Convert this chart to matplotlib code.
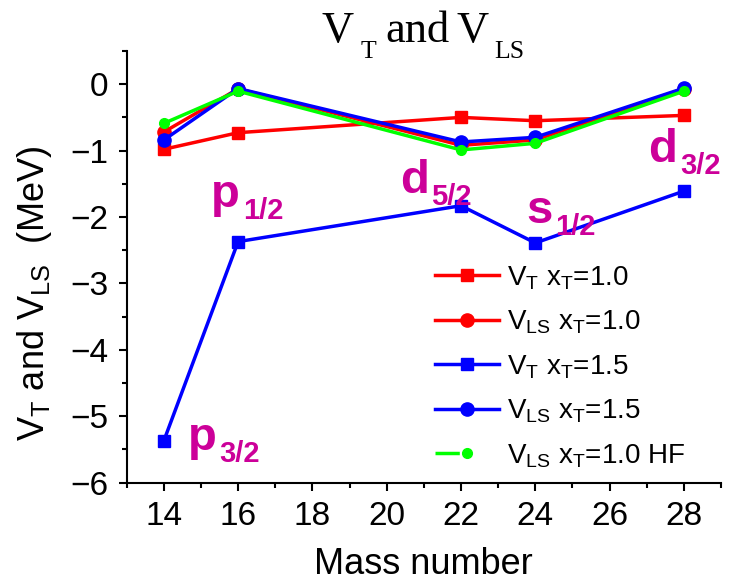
import matplotlib
matplotlib.use("Agg")
import matplotlib.pyplot as plt
from matplotlib.legend_handler import HandlerLine2D
from matplotlib.ticker import MultipleLocator

mass = [14, 16, 22, 24, 28]
vt_x10 = [-0.98, -0.73, -0.50, -0.55, -0.47]
vls_x10 = [-0.72, -0.07, -0.92, -0.84, -0.07]
vt_x15 = [-5.37, -2.37, -1.83, -2.39, -1.61]
vls_x15 = [-0.84, -0.065, -0.87, -0.80, -0.06]
vls_x10_hf = [-0.59, -0.105, -0.99, -0.89, -0.105]

orbital_main = ["p", "p", "d", "s", "d"]
orbital_sub = ["3/2", "1/2", "5/2", "1/2", "3/2"]
orbital_x = [14.64, 15.27, 20.35, 23.75, 27.04]
orbital_y = [-5.51, -1.85, -1.64, -2.09, -1.17]

SANS = "Liberation Sans"
SERIF = "Liberation Serif"

fig = plt.figure(figsize=(7.47, 5.86), dpi=100)
ax = fig.add_axes([0.1696, 0.1763, 0.9652 - 0.1696, 0.913 - 0.1763])

lw = 2.5
ax.plot(mass, vt_x10, color="#FF0000", marker="s", ms=9, lw=lw,
        label="V$_\\mathregular{T}$ x$_\\mathregular{T}$=1.0")
ax.plot(mass, vls_x10, color="#FF0000", marker="o", ms=9.5, lw=lw,
        label="V$_\\mathregular{LS}$ x$_\\mathregular{T}$=1.0")
ax.plot(mass, vt_x15, color="#0000FF", marker="s", ms=9, lw=lw,
        label="V$_\\mathregular{T}$ x$_\\mathregular{T}$=1.5")
ax.plot(mass, vls_x15, color="#0000FF", marker="o", ms=9.5, lw=lw,
        label="V$_\\mathregular{LS}$ x$_\\mathregular{T}$=1.5")
ax.plot(mass, vls_x10_hf, color="#00FF00", marker="o", ms=7, lw=lw,
        label="V$_\\mathregular{LS}$ x$_\\mathregular{T}$=1.0 HF")


def composed(x, y, pieces, ycoords, transform, **kw):
    """pieces: list of (text, fontsize, gap_pt, drop_pt)."""
    txt, size, _, _ = pieces[0]
    first = ax.text(x, y, txt, fontsize=size, ha="left", va="baseline",
                    transform=transform, clip_on=False, **kw)
    prev = first
    for txt, size, gap, drop in pieces[1:]:
        prev = ax.annotate(txt, xy=(1, y), xycoords=(prev, ycoords),
                           xytext=(gap, -drop), textcoords="offset points",
                           fontsize=size, ha="left", va="baseline",
                           annotation_clip=False, **kw)
    return first


for m, s, x, y in zip(orbital_main, orbital_sub, orbital_x, orbital_y):
    composed(x, y, [(m, 34, 0, 0), (s, 21, 2, 8.4)], "data", ax.transData,
             color="#CC0099", fontfamily=SANS, fontweight="bold")

# title  V_T and V_LS
composed(0.430, 1 - 41.7 / 586,
         [("V", 32, 0, 0), ("T", 18.5, 5, 12), ("and", 32, 7, 0),
          ("V", 32, 5, 0), ("LS", 18.5, 3.5, 12)],
         "figure fraction", fig.transFigure, fontfamily=SERIF, color="black")

ax.set_xlim(13, 29)
ax.set_ylim(-6, 0.5)
ax.xaxis.set_major_locator(MultipleLocator(2))
ax.xaxis.set_minor_locator(MultipleLocator(1))
ax.yaxis.set_minor_locator(MultipleLocator(0.5))
ax.spines["top"].set_visible(False)
ax.spines["right"].set_visible(False)
for sp in ("left", "bottom"):
    ax.spines[sp].set_linewidth(1.5)
ax.tick_params(which="major", direction="out", length=6, width=1.5,
               labelsize=24, pad=7)
ax.tick_params(which="minor", direction="out", length=3.5, width=1.5)
for t in ax.get_xticklabels():
    t.set_fontfamily(SANS)
ax.set_yticks([0, -1, -2, -3, -4, -5, -6])
ax.set_yticklabels(["0", "\u22121", "\u22122", "\u22123", "\u22124", "\u22125", "\u22126"],
                   fontfamily=SANS, fontsize=24)

ax.set_xlabel("Mass number", fontsize=26, fontfamily=SANS, labelpad=11)
ax.set_ylabel("V$_\\mathregular{T}$ and V$_\\mathregular{LS}$  (MeV)",
              fontsize=26, fontfamily=SANS)
ax.yaxis.set_label_coords(-0.122, 0.439)


def green_update(legline, orig):
    legline.update_from(orig)
    legline.set_dashes([7, 11.5])


handles, labels = ax.get_legend_handles_labels()
leg = ax.legend(handles, labels, loc="upper left",
                bbox_to_anchor=(435 / 747, 1 - 264 / 586),
                bbox_transform=fig.transFigure,
                frameon=False, prop={"family": SANS, "size": 20},
                handlelength=2.3, handletextpad=0.3, labelspacing=0.6,
                borderpad=0, borderaxespad=0,
                handler_map={handles[4]: HandlerLine2D(update_func=green_update)})

fig.savefig("out.png", dpi=100)
